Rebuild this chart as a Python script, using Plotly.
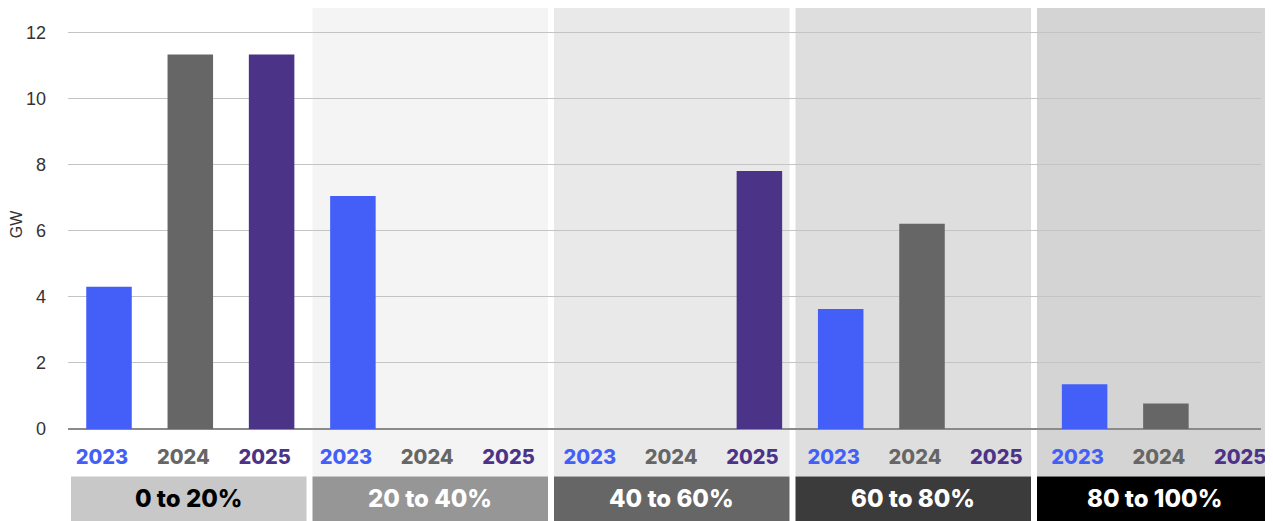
import plotly.graph_objects as go

# ---- data ----
groups = ["0 to 20%", "20 to 40%", "40 to 60%", "60 to 80%", "80 to 100%"]
years = ["2023", "2024", "2025"]
gw_2023 = [4.3, 7.05, 0, 3.63, 1.35]
gw_2024 = [11.33, 0, 0, 6.21, 0.77]
gw_2025 = [11.33, 0, 7.8, 0, 0]
y_ticks = [0, 2, 4, 6, 8, 10, 12]

# ---- styles ----
year_colors = {"2023": "#445ff8", "2024": "#666666", "2025": "#4b3387"}
band_colors = ["#ffffff", "#f4f4f4", "#e9e9e9", "#dedede", "#d4d4d4"]
box_colors = ["#c8c8c8", "#969696", "#666666", "#3b3b3b", "#000000"]
box_text_colors = ["#000000", "#ffffff", "#ffffff", "#ffffff", "#ffffff"]

# page offset of the figure (browser body margin)
OFF = 8
W, H = 1273 - 2 * OFF, 521 - OFF
PLOT_L, PLOT_R, PLOT_T, PLOT_B = 68, 1261, 20, 429.5   # page px
ML = PLOT_L - OFF
MT = PLOT_T - OFF
MR = W - (PLOT_R - OFF)
MB = H - (PLOT_B - OFF)
plot_w = W - ML - MR
plot_h = H - MT - MB

def px_to_paper_x(px):
    return (px - PLOT_L) / plot_w

def px_to_paper_y(py):
    return (PLOT_B - py) / plot_h

def axis_range(center0, slot):
    return [-(center0 - PLOT_L) / slot, (PLOT_R - center0) / slot]

categories = [f"{g} {y}" for g in groups for y in years]
series = {"2023": gw_2023, "2024": gw_2024, "2025": gw_2025}

fig = go.Figure()
for y in years:
    fig.add_trace(go.Bar(
        x=[f"{g} {y}" for g in groups],
        y=series[y],
        name=y,
        width=0.56,
        marker=dict(color=year_colors[y], line=dict(width=0)),
        hovertemplate="%{x}: %{y} GW<extra></extra>",
    ))

ticktext = [f"<span style='color:{year_colors[y]}'>{y}</span>" for g in groups for y in years]

shapes = []
annotations = []
band_top = px_to_paper_y(3)
band_bottom = px_to_paper_y(477)
box_bottom = px_to_paper_y(530)
for i, g in enumerate(groups):
    x0 = px_to_paper_x(71 + i * 241.5)
    x1 = px_to_paper_x(71 + i * 241.5 + 235.5)
    if i > 0:
        shapes.append(dict(type="rect", xref="paper", yref="paper",
                           x0=x0, x1=x1, y0=band_bottom, y1=band_top,
                           fillcolor=band_colors[i], line=dict(width=0), layer="below"))
    shapes.append(dict(type="rect", xref="paper", yref="paper",
                       x0=x0, x1=x1, y0=box_bottom, y1=band_bottom,
                       fillcolor=box_colors[i], line=dict(width=0), layer="below"))
    annotations.append(dict(xref="paper", yref="paper", x=(x0 + x1) / 2,
                            y=px_to_paper_y(499), text=g, showarrow=False,
                            xanchor="center", yanchor="middle",
                            font=dict(family="Inter", size=24, weight=800,
                                      color=box_text_colors[i])))

fig.update_layout(
    width=W, height=H,
    autosize=False,
    margin=dict(l=ML, r=MR, t=MT, b=MB, pad=0, autoexpand=False),
    paper_bgcolor="#ffffff",
    plot_bgcolor="rgba(0,0,0,0)",
    barmode="overlay",
    showlegend=False,
    shapes=shapes,
    annotations=annotations,
    xaxis=dict(
        type="category",
        categoryorder="array",
        categoryarray=categories,
        range=axis_range(109, 81.3),
        tickvals=categories,
        ticktext=ticktext,
        tickfont=dict(family="Inter", size=20, weight=800),
        ticklabelshift=-7,
        ticks="outside", ticklen=10, tickcolor="rgba(0,0,0,0)",
        showgrid=False, showline=False, zeroline=False,
        automargin=False,
        fixedrange=True,
    ),
    yaxis=dict(
        range=[0, 12.37],
        tickvals=y_ticks,
        tickfont=dict(family="Liberation Sans", size=18, color="#333333"),
        showgrid=True, gridcolor="#c4c4c4", gridwidth=1,
        zeroline=True, zerolinecolor="#8a8a8a", zerolinewidth=2,
        showline=False, ticks="", ticklabelstandoff=21,
        title=dict(text="GW", font=dict(family="Liberation Sans", size=16, color="#333333"),
                   standoff=6),
        automargin=False,
        fixedrange=True,
    ),
)

fig.write_html("out.html")
